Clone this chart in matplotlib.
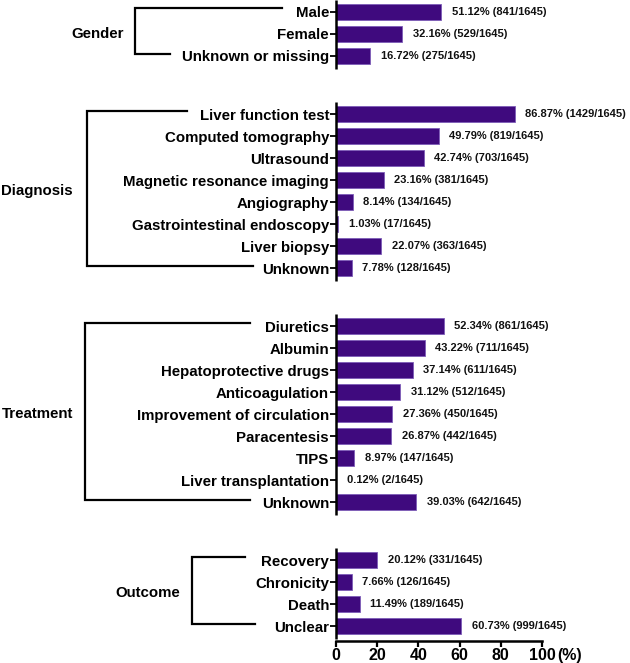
import matplotlib
matplotlib.use("Agg")
import matplotlib.pyplot as plt
from matplotlib.transforms import blended_transform_factory

plt.rcParams['font.family'] = ['Liberation Sans', 'DejaVu Sans']

TOTAL = 1645

groups = ["Gender", "Diagnosis", "Treatment", "Outcome"]

gender_labels = ["Male", "Female", "Unknown or missing"]
gender_counts = [841, 529, 275]
gender_pct = [51.12, 32.16, 16.72]

diagnosis_labels = ["Liver function test", "Computed tomography", "Ultrasound",
                    "Magnetic resonance imaging", "Angiography",
                    "Gastrointestinal endoscopy", "Liver biopsy", "Unknown"]
diagnosis_counts = [1429, 819, 703, 381, 134, 17, 363, 128]
diagnosis_pct = [86.87, 49.79, 42.74, 23.16, 8.14, 1.03, 22.07, 7.78]

treatment_labels = ["Diuretics", "Albumin", "Hepatoprotective drugs", "Anticoagulation",
                    "Improvement of circulation", "Paracentesis", "TIPS",
                    "Liver transplantation", "Unknown"]
treatment_counts = [861, 711, 611, 512, 450, 442, 147, 2, 642]
treatment_pct = [52.34, 43.22, 37.14, 31.12, 27.36, 26.87, 8.97, 0.12, 39.03]

outcome_labels = ["Recovery", "Chronicity", "Death", "Unclear"]
outcome_counts = [331, 126, 189, 999]
outcome_pct = [20.12, 7.66, 11.49, 60.73]

x_ticks = [0, 20, 40, 60, 80, 100]

all_labels = [gender_labels, diagnosis_labels, treatment_labels, outcome_labels]
all_counts = [gender_counts, diagnosis_counts, treatment_counts, outcome_counts]
all_pct = [gender_pct, diagnosis_pct, treatment_pct, outcome_pct]

# bracket geometry in figure pixels: (vertical x, top end x, bottom end x, label right x)
brackets = [(135, 282, 170, 124), (87, 187, 253, 73), (85, 250, 250, 73), (192, 245, 255, 180)]

W, H = 630, 663
fig = plt.figure(figsize=(W / 100, H / 100), dpi=100)
ax = fig.add_axes([336 / W, 1 - 641 / H, (542 - 336) / W, 641 / H])

bar_color = '#3f0a7e'
gap = 2.64
pos = 0.0
ypos_all, lab_all = [], []
group_ranges = []
for labs, counts, pct in zip(all_labels, all_counts, all_pct):
    ys = [pos + i for i in range(len(labs))]
    ax.barh(ys, pct, height=0.74, color=bar_color, edgecolor='#7d5cb8', linewidth=0.6)
    for y, p, c in zip(ys, pct, counts):
        ax.annotate(f"{p:.2f}% ({c}/{TOTAL})", (p, y), xytext=(7.5, 0),
                    textcoords='offset points', va='center', ha='left',
                    fontsize=8.0, fontweight='bold', color='#111111')
    ypos_all += ys
    lab_all += labs
    group_ranges.append((ys[0], ys[-1]))
    pos = ys[-1] + gap

ax.set_xlim(0, 100)
ax.set_ylim(28.59, -0.545)

ax.set_yticks(ypos_all)
ax.set_yticklabels(lab_all, fontsize=10.8, fontweight='bold')
ax.tick_params(axis='y', length=4, width=1.3, pad=1)
ax.set_xticks(x_ticks)
ax.set_xticklabels([str(t) for t in x_ticks], fontsize=11.5, fontweight='bold')
ax.tick_params(axis='x', length=4.5, width=1.6, pad=0.5)

for s in ['top', 'right', 'left']:
    ax.spines[s].set_visible(False)
ax.spines['bottom'].set_linewidth(1.8)

# broken left axis: one segment per group
for y0, y1 in group_ranges:
    ax.plot([0, 0], [y0 - 0.545, y1 + 0.57], color='black', lw=1.8,
            clip_on=False, solid_capstyle='butt')

ax.annotate("(%)", (100, 28.59), xytext=(11, -5.0), textcoords='offset points',
            fontsize=11.5, fontweight='bold', va='top', ha='left')

# group brackets
tr = blended_transform_factory(fig.transFigure, ax.transData)
for name, (y0, y1), (vx, tx, bx, lx) in zip(groups, group_ranges, brackets):
    top = y0 - 0.16
    bot = y1 - 0.1
    ax.plot([tx / W, vx / W, vx / W, bx / W], [top, top, bot, bot], color='black',
            lw=1.6, transform=tr, clip_on=False, solid_joinstyle='miter')
    ax.text(lx / W, (y0 + y1) / 2, name, transform=tr, ha='right', va='center',
            fontsize=10.8, fontweight='bold')

fig.savefig("out.png", dpi=100)
